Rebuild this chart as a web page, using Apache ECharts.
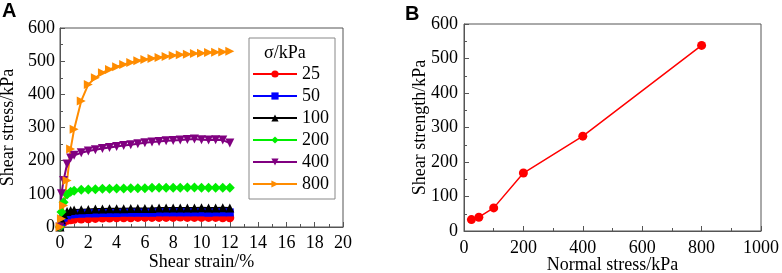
<!DOCTYPE html>
<html>
<head>
<meta charset="utf-8">
<script src="https://cdn.jsdelivr.net/npm/echarts@6/dist/echarts.min.js"></script>
<style>
  html, body { margin: 0; padding: 0; background: #fff; }
  #container { width: 782px; height: 273px; }
</style>
</head>
<body>
<div id="container"></div>
<script>
// panel A: shear stress vs shear strain
var strain = [0, 0.1, 0.25, 0.5, 0.75, 1, 1.5, 2, 2.5, 3, 3.5, 4, 4.5, 5, 5.5, 6, 6.5, 7, 7.5, 8, 8.5, 9, 9.5, 10, 10.5, 11, 11.5, 12];
var s25 = [0, 8, 15, 20, 22, 23, 24, 25, 26, 27, 27, 28, 28, 28, 29, 29, 29, 29, 29, 29, 30, 29, 29, 29, 29, 29, 28, 28];
var s50 = [0, 15, 28, 35, 38, 39, 40, 41, 41, 42, 42, 42, 43, 43, 43, 43, 43, 44, 44, 44, 44, 44, 44, 44, 43, 44, 44, 44];
var s100 = [0, 22, 38, 47, 50, 51, 52, 53, 54, 54, 55, 55, 55, 56, 56, 56, 56, 57, 57, 57, 57, 57, 57, 58, 57, 57, 58, 57];
var s200 = [0, 45, 75, 98, 106, 109, 112, 113, 114, 115, 115, 116, 116, 117, 117, 117, 118, 118, 118, 118, 118, 119, 119, 118, 118, 118, 118, 118];
var s400 = [0, 100, 140, 190, 208, 216, 224, 229, 233, 237, 240, 243, 246, 248, 251, 254, 256, 258, 260, 261, 262, 264, 265, 263, 262, 263, 262, 253];
var s800 = [0, 25, 65, 140, 235, 295, 380, 430, 450, 465, 475, 483, 490, 496, 501, 505, 508, 511, 514, 517, 519, 521, 523, 524, 526, 527, 528, 530];
var sigmaNames = ["25", "50", "100", "200", "400", "800"];

// panel B: shear strength vs normal stress
var normalStress = [25, 50, 100, 200, 400, 800];
var shearStrength = [33, 40, 67, 168, 275, 538];

var serif = "Liberation Serif";
var dom = document.getElementById("container");
var myChart = echarts.init(dom, null, { renderer: "canvas" });

function pairs(xs, ys) {
  var out = [];
  for (var i = 0; i < xs.length; i++) out.push([xs[i], ys[i]]);
  return out;
}

function makeAxis(gridIndex, min, max, interval, name, nameGap, labelMargin) {
  return {
    gridIndex: gridIndex,
    type: "value",
    min: min,
    max: max,
    interval: interval,
    name: name,
    nameLocation: "middle",
    nameGap: nameGap,
    nameMoveOverlap: false,
    nameTextStyle: { fontFamily: serif, fontSize: 18, color: "#000" },
    axisLine: { show: true, lineStyle: { color: "#555", width: 1 } },
    axisTick: { show: true, inside: true, length: 5, lineStyle: { color: "#555" } },
    minorTick: { show: true, splitNumber: 2, length: 3, lineStyle: { color: "#555" } },
    axisLabel: {
      fontFamily: serif,
      fontSize: 18,
      color: "#000",
      margin: labelMargin,
      hideOverlap: false,
      showMinLabel: true,
      showMaxLabel: true,
      formatter: function (v) { return String(v); },
    },
    splitLine: { show: false },
  };
}

var colors = ["#ff0000", "#0000ff", "#000000", "#00ee00", "#800080", "#ff8c00"];
var symbols = ["circle", "rect", "triangle", "diamond", "triangle", "triangle"];
var rotates = [0, 0, 0, 0, 180, -90];
var sizes = [9, 8, 9, 10, 9, 9];
var dataA = [s25, s50, s100, s200, s400, s800];

var seriesList = [];
for (var i = 0; i < dataA.length; i++) {
  seriesList.push({
    name: sigmaNames[i],
    type: "line",
    xAxisIndex: 0,
    yAxisIndex: 0,
    data: pairs(strain, dataA[i]),
    symbol: symbols[i],
    symbolRotate: rotates[i],
    symbolSize: sizes[i],
    showAllSymbol: true,
    color: colors[i],
    lineStyle: { width: 2, color: colors[i] },
    itemStyle: { color: colors[i] },
  });
}
seriesList.push({
  name: "B",
  type: "line",
  xAxisIndex: 1,
  yAxisIndex: 1,
  data: pairs(normalStress, shearStrength),
  symbol: "circle",
  symbolSize: 9,
  color: "#ff0000",
  lineStyle: { width: 1.5, color: "#ff0000" },
  itemStyle: { color: "#ff0000" },
});

myChart.setOption({
  animation: false,
  textStyle: { fontFamily: serif },
  grid: [
    { left: 60, top: 28, width: 283, height: 199, show: true, borderColor: "#555", borderWidth: 1, outerBoundsMode: "none", containLabel: false },
    { left: 464, top: 24, width: 297, height: 207, show: true, borderColor: "#555", borderWidth: 1, outerBoundsMode: "none", containLabel: false },
  ],
  xAxis: [
    makeAxis(0, 0, 20, 2, "Shear strain/%", 26, 7),
    makeAxis(1, 0, 1000, 200, "Normal stress/kPa", 25, 8),
  ],
  yAxis: [
    makeAxis(0, 0, 600, 100, "Shear stress/kPa", 43, 5),
    makeAxis(1, 0, 600, 100, "Shear strength/kPa", 35, 6),
  ],
  legend: {
    data: sigmaNames,
    orient: "vertical",
    left: 249,
    top: 38,
    padding: [27, 6, 6, 3],
    itemWidth: 44,
    itemHeight: 9,
    itemGap: 4,
    borderColor: "#888",
    borderWidth: 1,
    backgroundColor: "#fff",
    textStyle: { fontFamily: serif, fontSize: 18, color: "#000" },
    symbolRotate: "inherit",
  },
  graphic: [
    { type: "text", left: 2, top: 1, style: { text: "A", font: "bold 20px 'Liberation Sans'", fill: "#000" } },
    { type: "text", left: 405, top: 4, style: { text: "B", font: "bold 20px 'Liberation Sans'", fill: "#000" } },
    { type: "text", left: 264, top: 44, z: 100, style: { text: "σ/kPa", font: "18px 'Liberation Serif'", fill: "#000" } },
  ],
  series: seriesList,
});
</script>
</body>
</html>
